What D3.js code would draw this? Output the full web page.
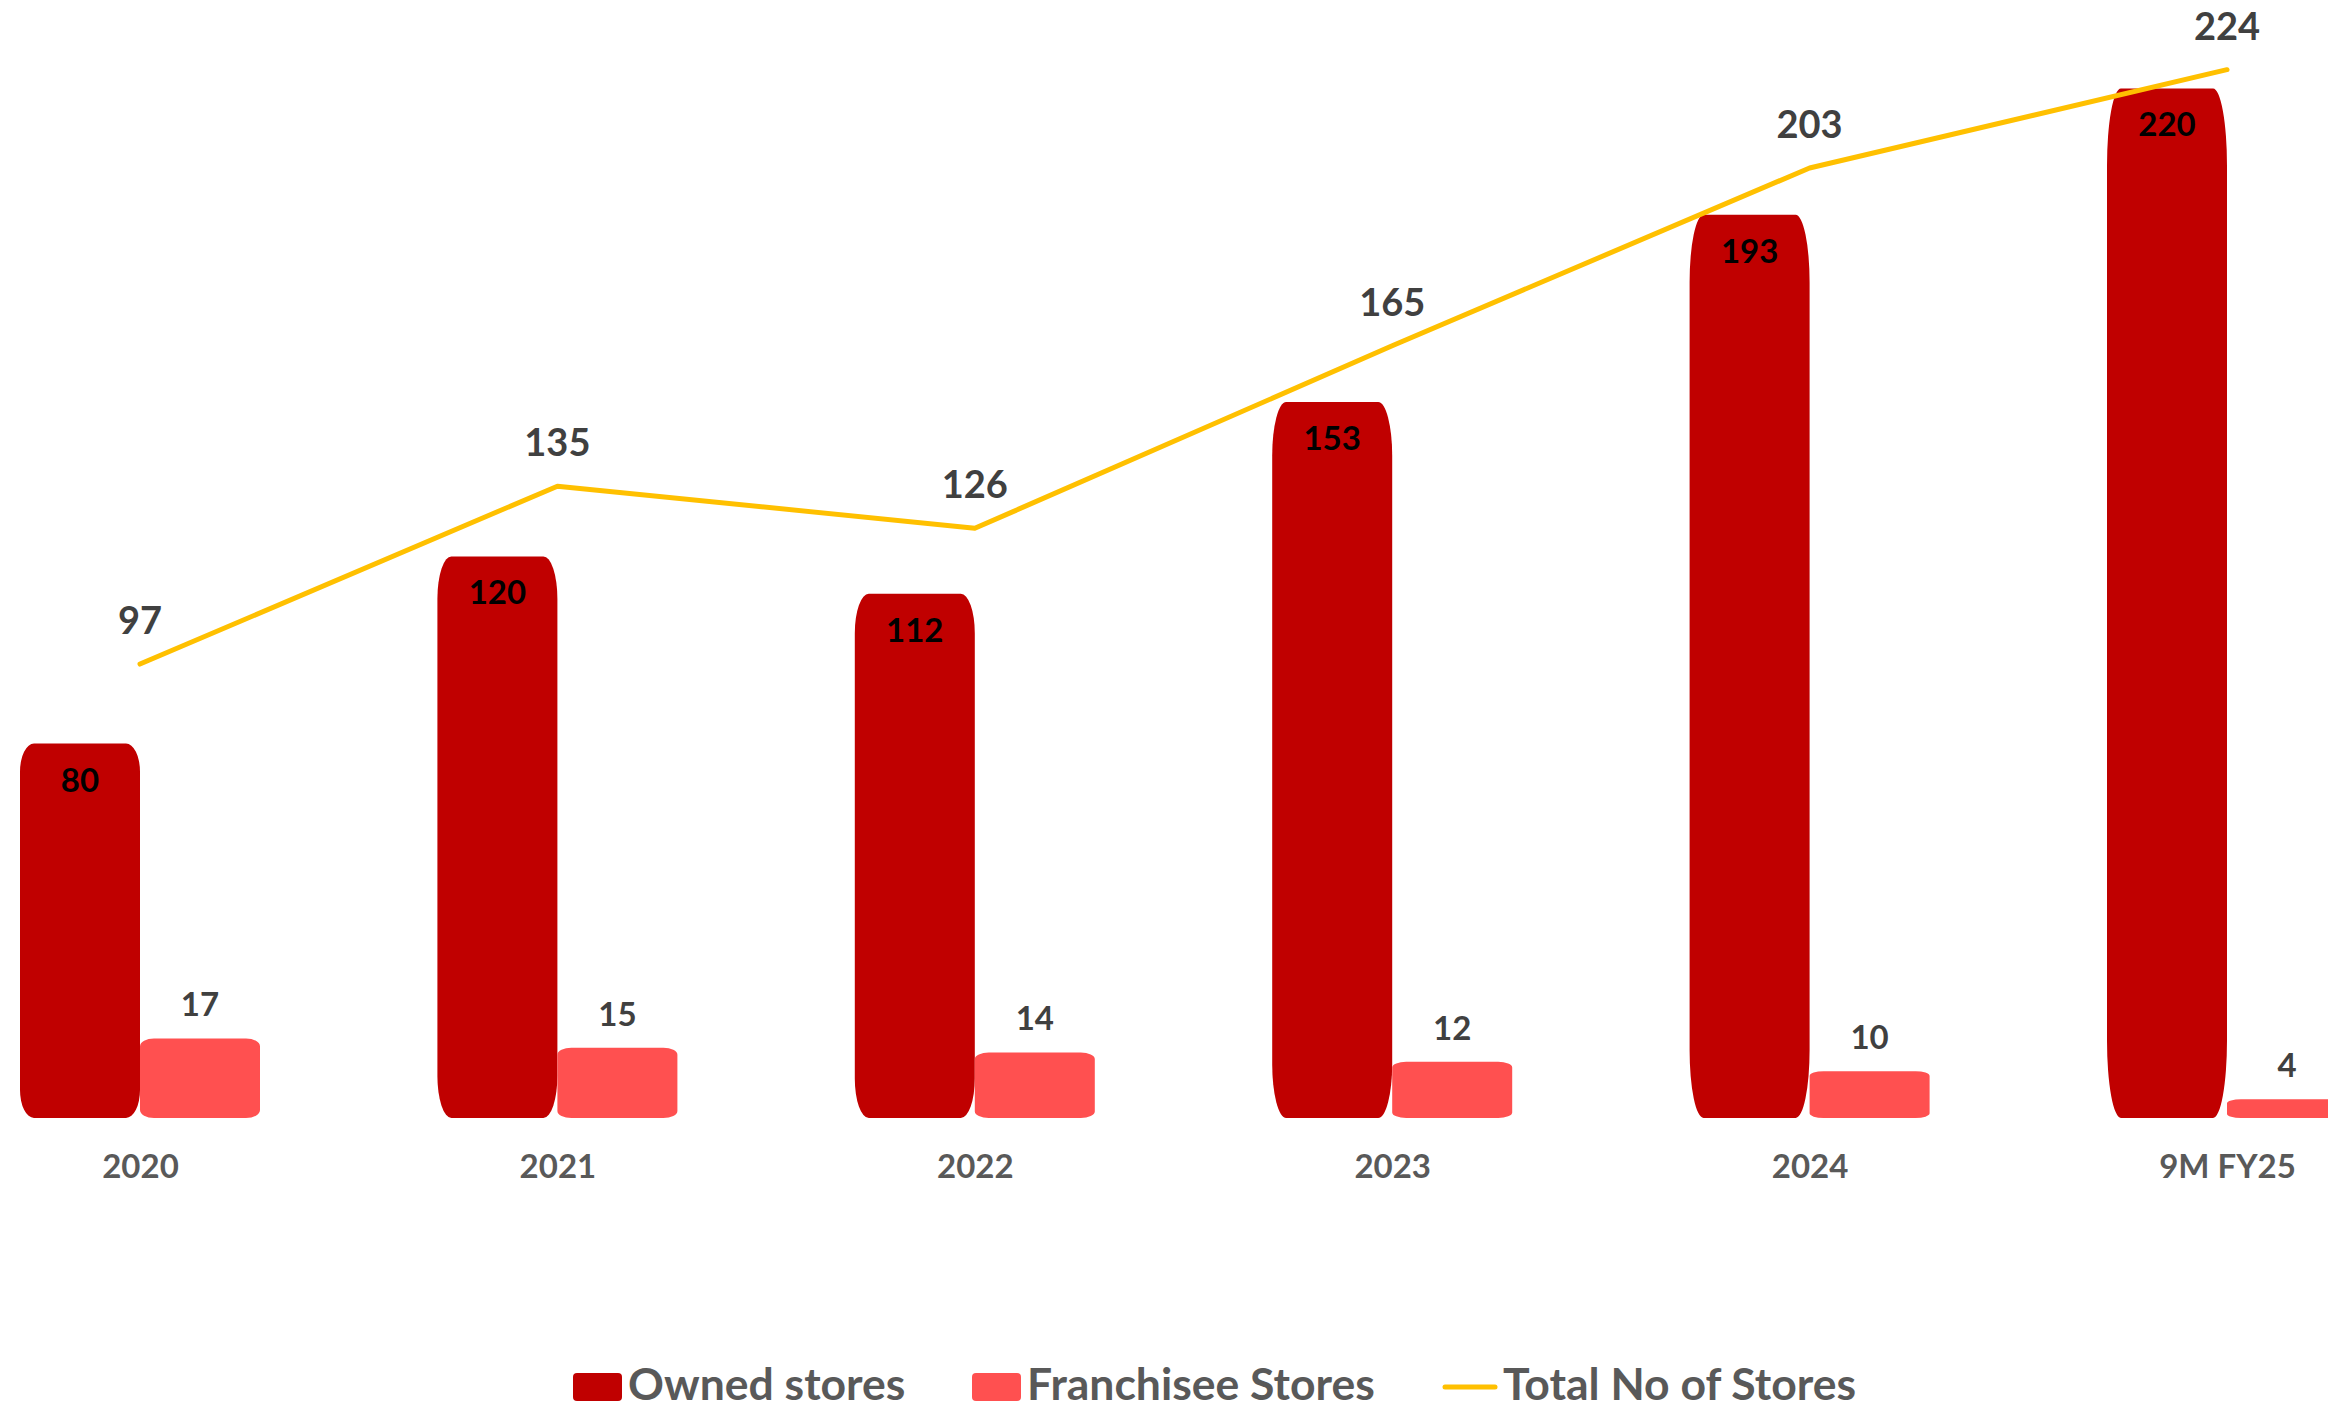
<!DOCTYPE html>
<html>
<head>
<meta charset="utf-8">
<script src="https://cdn.jsdelivr.net/npm/d3@7"></script>
<style>
  body { margin: 0; background: #fff; }
  svg { display: block; font-family: Lato, "Open Sans", sans-serif; font-weight: bold; }
</style>
</head>
<body>
<div id="chart"></div>
<script>
// Chart data
let categories = ['2020', '2021', '2022', '2023', '2024', '9M FY25'];
let ownedStores = [80, 120, 112, 153, 193, 220];
let franchiseeStores = [17, 15, 14, 12, 10, 4];
let totalStores = [97, 135, 126, 165, 203, 224];
let legendLabels = ['Owned stores', 'Franchisee Stores', 'Total No of Stores'];

// Size of the page
let width = 2328, height = 1412;
let baseline = 1118;
let barWidth = 120;

// Colours
let ownedColor = '#C00000';
let franchiseColor = '#FF5050';
let lineColor = '#FFC000';

// Create wrapper svg
let svg = d3.select('#chart')
    .append('svg')
    .attr('width', width)
    .attr('height', height);

// Scales: group centre sits between the two bars
let xScale = d3.scalePoint().domain(categories).range([140, 2227]);
let yScale = d3.scaleLinear().domain([0, 240]).range([baseline, baseline - 240 * 4.68]);

// Rounded rectangle with elliptical corners
function roundedBar(x, y, w, h, rx, ry) {
    rx = Math.min(rx, w / 2);
    ry = Math.min(ry, h / 2);
    return 'M' + (x + rx) + ',' + y +
        'H' + (x + w - rx) +
        'A' + rx + ',' + ry + ' 0 0 1 ' + (x + w) + ',' + (y + ry) +
        'V' + (y + h - ry) +
        'A' + rx + ',' + ry + ' 0 0 1 ' + (x + w - rx) + ',' + (y + h) +
        'H' + (x + rx) +
        'A' + rx + ',' + ry + ' 0 0 1 ' + x + ',' + (y + h - ry) +
        'V' + (y + ry) +
        'A' + rx + ',' + ry + ' 0 0 1 ' + (x + rx) + ',' + y + 'Z';
}

let owned = categories.map((c, i) => ({ cat: c, value: ownedStores[i] }));
let franchise = categories.map((c, i) => ({ cat: c, value: franchiseeStores[i] }));
let totals = categories.map((c, i) => ({ cat: c, value: totalStores[i] }));

// Owned store bars
svg.append('g').selectAll('path')
    .data(owned)
    .enter().append('path')
    .attr('fill', ownedColor)
    .attr('d', (d) => {
        let h = baseline - yScale(d.value);
        return roundedBar(xScale(d.cat) - barWidth, yScale(d.value), barWidth, h, 14, h * 0.075);
    });

// Franchisee store bars
svg.append('g').selectAll('path')
    .data(franchise)
    .enter().append('path')
    .attr('fill', franchiseColor)
    .attr('d', (d) => {
        let h = baseline - yScale(d.value);
        return roundedBar(xScale(d.cat), yScale(d.value), barWidth, h, 14, Math.max(h * 0.1, 4));
    });

// Total line
let line = d3.line()
    .x((d) => xScale(d.cat))
    .y((d) => yScale(d.value));

svg.append('path')
    .datum(totals)
    .attr('d', line)
    .attr('fill', 'none')
    .attr('stroke', lineColor)
    .attr('stroke-width', 5)
    .attr('stroke-linecap', 'round')
    .attr('stroke-linejoin', 'round');

// Owned labels inside bar tops
svg.append('g').selectAll('text')
    .data(owned)
    .enter().append('text')
    .attr('x', (d) => xScale(d.cat) - barWidth / 2)
    .attr('y', (d) => yScale(d.value) + 48)
    .attr('text-anchor', 'middle')
    .attr('font-size', 33)
    .attr('fill', '#000')
    .text((d) => d.value);

// Franchisee labels above bars
svg.append('g').selectAll('text')
    .data(franchise)
    .enter().append('text')
    .attr('x', (d) => xScale(d.cat) + barWidth / 2)
    .attr('y', (d) => yScale(d.value) - 22)
    .attr('text-anchor', 'middle')
    .attr('font-size', 33)
    .attr('fill', '#404040')
    .text((d) => d.value);

// Total labels above line points
svg.append('g').selectAll('text')
    .data(totals)
    .enter().append('text')
    .attr('x', (d) => xScale(d.cat))
    .attr('y', (d) => yScale(d.value) - 30)
    .attr('text-anchor', 'middle')
    .attr('font-size', 38)
    .attr('fill', '#404040')
    .text((d) => d.value);

// Category axis, no line or ticks
let xAxis = d3.axisBottom(xScale).tickSize(0).tickPadding(0);
let xAxisG = svg.append('g')
    .attr('transform', 'translate(0,' + 1178 + ')')
    .call(xAxis);
xAxisG.select('.domain').remove();
xAxisG.selectAll('text')
    .attr('dy', 0)
    .attr('font-family', 'Lato, "Open Sans", sans-serif')
    .attr('font-weight', 'bold')
    .attr('font-size', 33)
    .attr('fill', '#595959');

// Legend
let legend = svg.append('g');
let legendX = [573, 972, 1443];
legendLabels.forEach((label, i) => {
    let g = legend.append('g').attr('transform', 'translate(' + legendX[i] + ',0)');
    if (i < 2) {
        g.append('rect')
            .attr('x', 0).attr('y', 1373)
            .attr('width', 49).attr('height', 28)
            .attr('rx', 4)
            .attr('fill', i === 0 ? ownedColor : franchiseColor);
    } else {
        g.append('line')
            .attr('x1', 2).attr('x2', 52)
            .attr('y1', 1387).attr('y2', 1387)
            .attr('stroke', lineColor)
            .attr('stroke-width', 5)
            .attr('stroke-linecap', 'round');
    }
    g.append('text')
        .attr('x', i < 2 ? 55 : 60)
        .attr('y', 1400)
        .attr('font-size', 44.5)
        .attr('fill', '#595959')
        .text(label);
});
</script>
</body>
</html>
